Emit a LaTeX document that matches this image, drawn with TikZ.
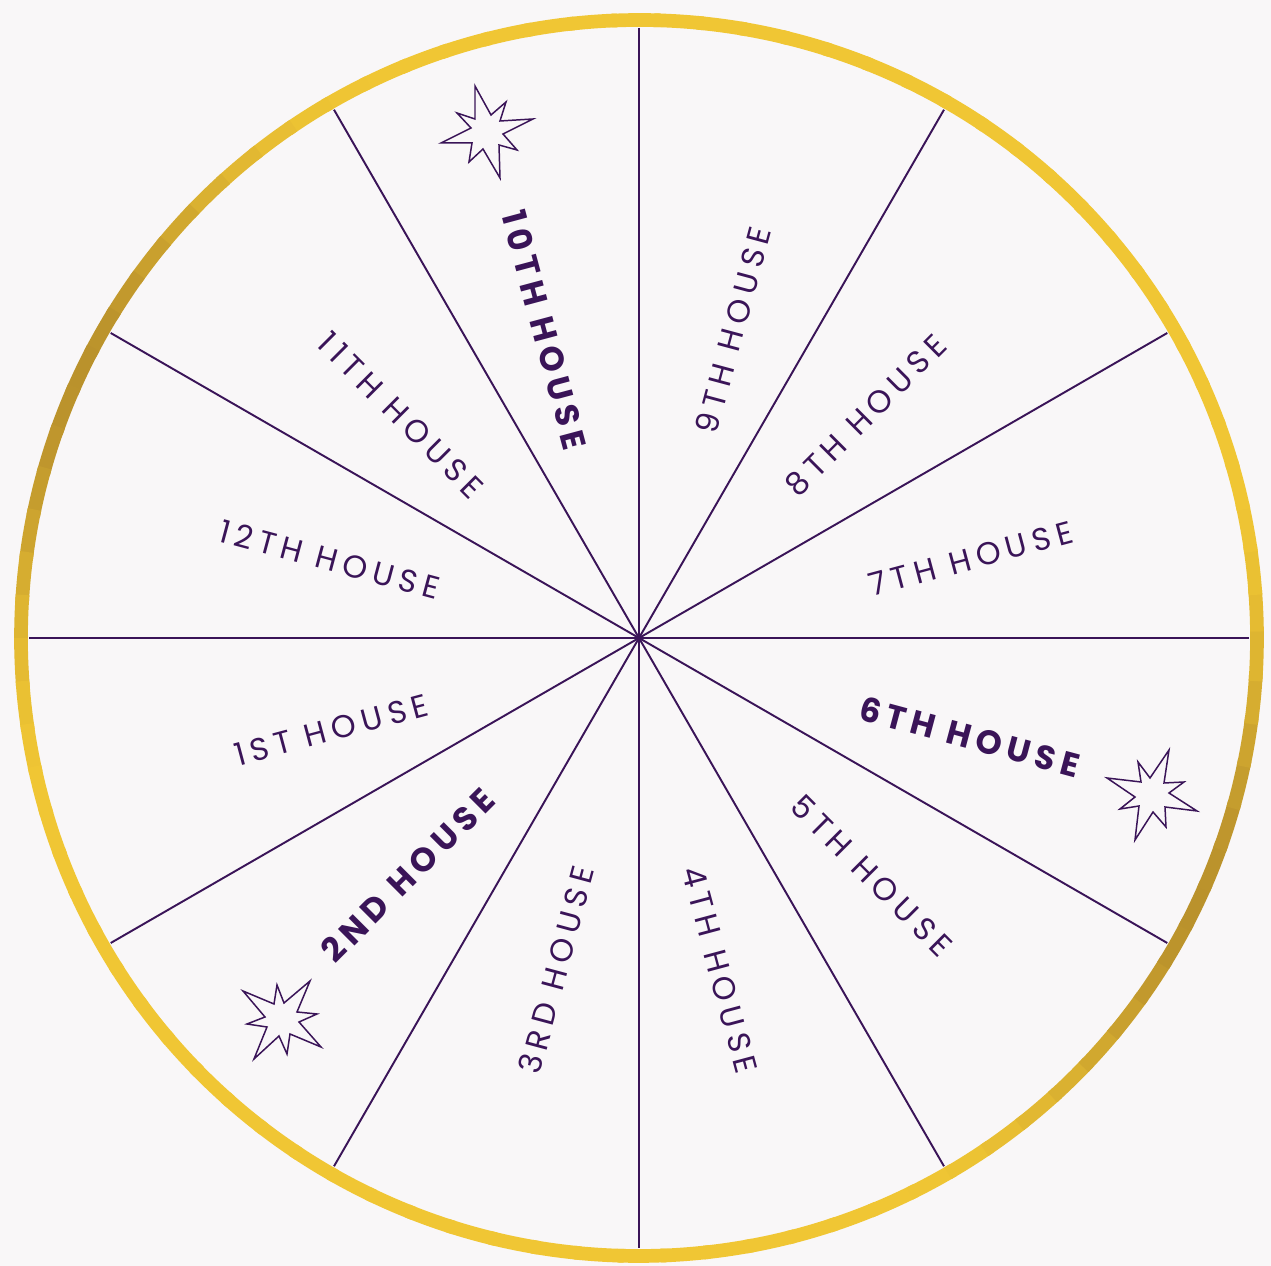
\documentclass[tikz,border=0pt]{standalone}
\usepackage{fontspec}
\newfontfamily\housefont{Poppins}[LetterSpace=19]
\newfontfamily\houseboldfont{Poppins}[LetterSpace=17.5]
\definecolor{house_purple}{RGB}{58,20,88}
\definecolor{gold_light}{RGB}{240,198,52}
\definecolor{gold_dark}{RGB}{186,146,44}
\definecolor{paper}{RGB}{249,247,248}

\begin{document}
\begin{tikzpicture}[
    x=0.02cm, y=0.02cm,
    spoke/.style={draw=house_purple, line width=1.1pt},
    housetext/.style={text=house_purple, inner sep=0pt, font=\housefont\fontsize{18}{20}\selectfont},
    boldtext/.style={housetext, font=\houseboldfont\bfseries\fontsize{19}{21}\selectfont},
    sparkle/.style={draw=house_purple, line width=0.85pt, line join=miter, fill=paper},
    ring/.style={line width=7.8pt, line cap=butt}
]

%% ============================================================
%% CANVAS
%% ============================================================
\fill[paper] (-639,-628) rectangle (632,638);
\useasboundingbox (-639,-628) rectangle (632,638);

%% --- gold rim ---
\foreach \a in {0,4,...,356} {
    \pgfmathsetmacro{\t}{100*max(0,cos(2*(\a+2-155)))^3}
    \colorlet{ring_c}{gold_dark!\t!gold_light}
    \draw[ring, draw=ring_c] (\a:618) arc[start angle=\a, end angle=\a+4.6, radius=12.36cm];
}

%% --- spokes ---
\coordinate (hub) at (0,0);
\foreach \a in {0,30,...,150} {
    \draw[spoke] (\a:610) -- (hub) -- (\a+180:610);
}

%% ============================================================
%% HOUSE LABELS
%% ============================================================
\foreach \n/\txt/\ang/\rad/\rot/\sty in {
    9/9TH HOUSE/73/322/75/housetext,
    8/8TH HOUSE/44.5/318/45/housetext,
    7/7TH HOUSE/13.5/341/15/housetext,
    6/6TH HOUSE/-16.6/345/-15/boldtext,
    5/5TH HOUSE/-45.6/333/-45/housetext,
    4/4TH HOUSE/-76.3/342/-75/housetext,
    3/3RD HOUSE/256/342/75/housetext,
    2/2ND HOUSE/225.7/331/45/boldtext,
    1/1ST HOUSE/196.6/321/15/housetext,
    12/12TH HOUSE/165.7/319/-15/housetext,
    11/11TH HOUSE/136.9/326/-45/housetext,
    10/10TH HOUSE/107/322/-75/boldtext} {
    \node[\sty, rotate=\rot] (h\n) at (\ang:\rad) {\txt};
}

%% --- sparkles (image pixel coordinates) ---
\begin{scope}[shift={(-639,638)}, yscale=-1]
    \draw[sparkle] (475,86) -- (491,115) -- (506,102) -- (500,121) -- (533,119) -- (503,134)
        -- (517,150) -- (499,145) -- (500,178) -- (483,149) -- (469,162) -- (472,143)
        -- (441,143) -- (471,128) -- (457,113) -- (475,119) -- cycle;
    \draw[sparkle] (1169,750) -- (1164,783) -- (1184,782) -- (1169,793) -- (1197,811) -- (1165,807)
        -- (1166,827) -- (1153,812) -- (1135,840) -- (1139,806) -- (1120,809) -- (1135,797)
        -- (1107,778) -- (1141,782) -- (1138,762) -- (1150,778) -- cycle;
    \draw[sparkle] (310,981) -- (297,1012) -- (317,1014) -- (299,1022) -- (321,1047) -- (290,1034)
        -- (287,1054) -- (279,1036) -- (254,1059) -- (267,1027) -- (247,1024) -- (265,1017)
        -- (243,991) -- (274,1004) -- (277,985) -- (284,1003) -- cycle;
\end{scope}

\end{tikzpicture}
\end{document}
